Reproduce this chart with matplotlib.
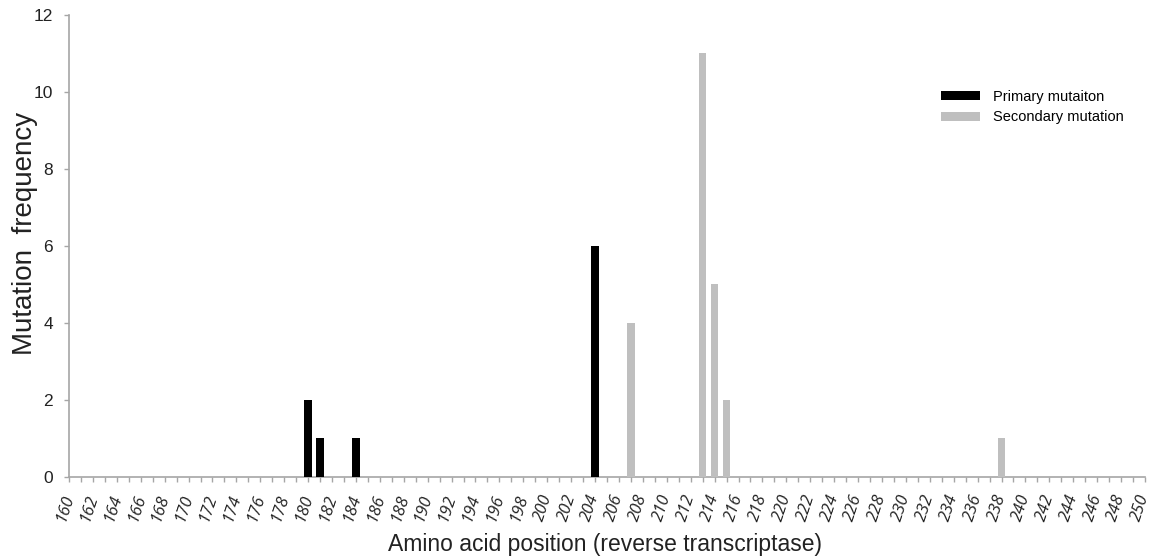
import matplotlib
matplotlib.use("Agg")
import matplotlib.pyplot as plt
from matplotlib.patches import Patch
from matplotlib import font_manager

positions_primary = [180, 181, 184, 204]
freq_primary = [2, 1, 1, 6]
positions_secondary = [207, 213, 214, 215, 238]
freq_secondary = [4, 11, 5, 2, 1]
x_tick_labels = list(range(160, 251, 2))
y_ticks = [0, 2, 4, 6, 8, 10, 12]

plt.rcParams['font.family'] = ['Liberation Sans', 'DejaVu Sans']

names = {f.name for f in font_manager.fontManager.ttflist}
legend_font = 'Liberation Sans Narrow' if 'Liberation Sans Narrow' in names else 'Liberation Sans'
legend_size = 12.5 if legend_font == 'Liberation Sans Narrow' else 10.5

fig = plt.figure(figsize=(11.54, 5.58), dpi=100)
ax = fig.add_axes([0.0598, 0.1452, 0.9324, 0.828])

w = 0.63
ax.bar(positions_primary, freq_primary, width=w, color='black', zorder=3)
ax.bar(positions_secondary, freq_secondary, width=w, color='#bfbfbf', zorder=3)

ax.set_xlim(160, 250)
ax.set_ylim(0, 12)
ax.set_yticks(y_ticks)
ax.set_yticklabels([str(v) for v in y_ticks], fontsize=12.5, color='#222222')
ax.set_xticks(range(160, 251))
ax.set_xticklabels([str(v) if v in x_tick_labels else '' for v in range(160, 251)],
                   fontsize=12, rotation=72, ha='right', va='center',
                   rotation_mode='anchor', color='#222222',
                   family=['Open Sans', 'DejaVu Sans'], style='italic')

for s in ['top', 'right']:
    ax.spines[s].set_visible(False)
for s in ['left', 'bottom']:
    ax.spines[s].set_color('#a6a6a6')
    ax.spines[s].set_linewidth(1.2)
ax.tick_params(axis='x', direction='out', length=3.5, width=1, color='#a6a6a6', pad=9)
ax.tick_params(axis='y', direction='out', length=3.5, width=1, color='#a6a6a6', pad=8)

ax.set_ylabel('Mutation  frequency', fontsize=20, color='#222222')
ax.yaxis.set_label_coords(-31/1076, (477-233.5)/462, transform=ax.transAxes)
ax.set_xlabel('Amino acid position (reverse transcriptase)', fontsize=16.5, color='#222222', va='top')
ax.xaxis.set_label_coords((605-69)/1076, -(533-477)/462, transform=ax.transAxes)

fs_px = legend_size * 100 / 72
handles = [Patch(facecolor='black', edgecolor='none', label='Primary mutaiton'),
           Patch(facecolor='#bfbfbf', edgecolor='none', label='Secondary mutation')]
ax.legend(handles=handles, loc='upper left', bbox_to_anchor=(941/1154, 1-90/558),
          bbox_transform=fig.transFigure, frameon=False, borderpad=0, borderaxespad=0,
          prop={'family': legend_font, 'size': legend_size},
          handlelength=39/fs_px, handleheight=8/fs_px, handletextpad=13/fs_px,
          labelspacing=(21-fs_px)/fs_px)

fig.savefig('out.png', dpi=100)
